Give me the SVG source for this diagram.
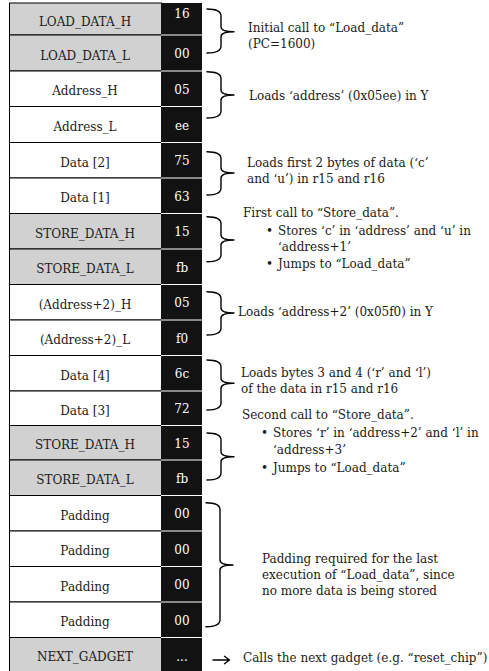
<svg xmlns="http://www.w3.org/2000/svg" width="489" height="671" viewBox="0 0 489 671">
<style>
.cell{stroke:#000;stroke-width:1}
.g{fill:#d1d1d1}
.w{fill:#fff}
.hx{fill:#121212}
.sep{stroke:#fff;stroke-width:1}
.lbl{font-family:"DejaVu Serif",serif;font-size:12px;fill:#1a1a1a;text-anchor:middle}
.hxt{font-family:"DejaVu Serif",serif;font-size:12px;fill:#fff;text-anchor:middle}
.ann{font-family:"DejaVu Serif",serif;font-size:12px;fill:#1a1a1a}
.br{fill:none;stroke:#000;stroke-width:1.4;stroke-linecap:round;stroke-linejoin:round}
</style>
<rect width="489" height="671" fill="#fff"/>
<g id="row0"><rect class="cell g" x="9.5" y="3" width="152" height="32"/><rect class="hx" x="161" y="3" width="41" height="32"/><text class="lbl" x="85" y="25.5">LOAD_DATA_H</text><text class="hxt" x="182" y="18">16</text></g>
<g id="row1"><rect class="cell g" x="9.5" y="35" width="152" height="36"/><rect class="hx" x="161" y="35" width="41" height="36"/><line class="sep" x1="161" y1="35" x2="202" y2="35"/><text class="lbl" x="85" y="59.5">LOAD_DATA_L</text><text class="hxt" x="182" y="58">00</text></g>
<g id="row2"><rect class="cell w" x="9.5" y="71" width="152" height="35.5"/><rect class="hx" x="161" y="71" width="41" height="35.5"/><line class="sep" x1="161" y1="71" x2="202" y2="71"/><text class="lbl" x="85" y="95.25">Address_H</text><text class="hxt" x="182" y="93.75">05</text></g>
<g id="row3"><rect class="cell w" x="9.5" y="106.5" width="152" height="36"/><rect class="hx" x="161" y="106.5" width="41" height="36"/><line class="sep" x1="161" y1="106.5" x2="202" y2="106.5"/><text class="lbl" x="85" y="131">Address_L</text><text class="hxt" x="182" y="129.5">ee</text></g>
<g id="row4"><rect class="cell w" x="9.5" y="142.5" width="152" height="35.5"/><rect class="hx" x="161" y="142.5" width="41" height="35.5"/><line class="sep" x1="161" y1="142.5" x2="202" y2="142.5"/><text class="lbl" x="85" y="166.75">Data [2]</text><text class="hxt" x="182" y="165.25">75</text></g>
<g id="row5"><rect class="cell w" x="9.5" y="178" width="152" height="35.5"/><rect class="hx" x="161" y="178" width="41" height="35.5"/><line class="sep" x1="161" y1="178" x2="202" y2="178"/><text class="lbl" x="85" y="202.25">Data [1]</text><text class="hxt" x="182" y="200.75">63</text></g>
<g id="row6"><rect class="cell g" x="9.5" y="213.5" width="152" height="35.5"/><rect class="hx" x="161" y="213.5" width="41" height="35.5"/><line class="sep" x1="161" y1="213.5" x2="202" y2="213.5"/><text class="lbl" x="85" y="237.75">STORE_DATA_H</text><text class="hxt" x="182" y="236.25">15</text></g>
<g id="row7"><rect class="cell g" x="9.5" y="249" width="152" height="35.5"/><rect class="hx" x="161" y="249" width="41" height="35.5"/><line class="sep" x1="161" y1="249" x2="202" y2="249"/><text class="lbl" x="85" y="273.25">STORE_DATA_L</text><text class="hxt" x="182" y="271.75">fb</text></g>
<g id="row8"><rect class="cell w" x="9.5" y="284.5" width="152" height="35.5"/><rect class="hx" x="161" y="284.5" width="41" height="35.5"/><line class="sep" x1="161" y1="284.5" x2="202" y2="284.5"/><text class="lbl" x="85" y="308.75">(Address+2)_H</text><text class="hxt" x="182" y="307.25">05</text></g>
<g id="row9"><rect class="cell w" x="9.5" y="320" width="152" height="35.5"/><rect class="hx" x="161" y="320" width="41" height="35.5"/><line class="sep" x1="161" y1="320" x2="202" y2="320"/><text class="lbl" x="85" y="344.25">(Address+2)_L</text><text class="hxt" x="182" y="342.75">f0</text></g>
<g id="row10"><rect class="cell w" x="9.5" y="355.5" width="152" height="35.5"/><rect class="hx" x="161" y="355.5" width="41" height="35.5"/><line class="sep" x1="161" y1="355.5" x2="202" y2="355.5"/><text class="lbl" x="85" y="379.75">Data [4]</text><text class="hxt" x="182" y="378.25">6c</text></g>
<g id="row11"><rect class="cell w" x="9.5" y="391" width="152" height="34.5"/><rect class="hx" x="161" y="391" width="41" height="34.5"/><line class="sep" x1="161" y1="391" x2="202" y2="391"/><text class="lbl" x="85" y="414.75">Data [3]</text><text class="hxt" x="182" y="413.25">72</text></g>
<g id="row12"><rect class="cell g" x="9.5" y="425.5" width="152" height="34.5"/><rect class="hx" x="161" y="425.5" width="41" height="34.5"/><line class="sep" x1="161" y1="425.5" x2="202" y2="425.5"/><text class="lbl" x="85" y="449.25">STORE_DATA_H</text><text class="hxt" x="182" y="447.75">15</text></g>
<g id="row13"><rect class="cell g" x="9.5" y="460" width="152" height="35.5"/><rect class="hx" x="161" y="460" width="41" height="35.5"/><line class="sep" x1="161" y1="460" x2="202" y2="460"/><text class="lbl" x="85" y="484.25">STORE_DATA_L</text><text class="hxt" x="182" y="482.75">fb</text></g>
<g id="row14"><rect class="cell w" x="9.5" y="495.5" width="152" height="35.5"/><rect class="hx" x="161" y="495.5" width="41" height="35.5"/><line class="sep" x1="161" y1="495.5" x2="202" y2="495.5"/><text class="lbl" x="85" y="519.75">Padding</text><text class="hxt" x="182" y="518.25">00</text></g>
<g id="row15"><rect class="cell w" x="9.5" y="531" width="152" height="35.5"/><rect class="hx" x="161" y="531" width="41" height="35.5"/><line class="sep" x1="161" y1="531" x2="202" y2="531"/><text class="lbl" x="85" y="555.25">Padding</text><text class="hxt" x="182" y="553.75">00</text></g>
<g id="row16"><rect class="cell w" x="9.5" y="566.5" width="152" height="35.5"/><rect class="hx" x="161" y="566.5" width="41" height="35.5"/><line class="sep" x1="161" y1="566.5" x2="202" y2="566.5"/><text class="lbl" x="85" y="590.75">Padding</text><text class="hxt" x="182" y="589.25">00</text></g>
<g id="row17"><rect class="cell w" x="9.5" y="602" width="152" height="35.5"/><rect class="hx" x="161" y="602" width="41" height="35.5"/><line class="sep" x1="161" y1="602" x2="202" y2="602"/><text class="lbl" x="85" y="626.25">Padding</text><text class="hxt" x="182" y="624.75">00</text></g>
<g id="row18"><rect class="cell g" x="9.5" y="637.5" width="152" height="36"/><rect class="hx" x="161" y="637.5" width="41" height="36"/><line class="sep" x1="161" y1="637.5" x2="202" y2="637.5"/><text class="lbl" x="85" y="661">NEXT_GADGET</text><text class="hxt" x="182" y="661">...</text></g>
<g id="connectors">
<path class="br" d="M207,9 Q221,9 221,16 L221,26.7 Q221,31.7 234,31.7 Q221,31.7 221,36.7 L221,46 Q221,53 207,53"/>
<path class="br" d="M207,71.7 Q221,71.7 221,78.7 L221,90 Q221,95 234,95 Q221,95 221,100 L221,111 Q221,118 207,118"/>
<path class="br" d="M207,151.7 Q221,151.7 221,158.7 L221,168 Q221,173 234,173 Q221,173 221,178 L221,188 Q221,195 207,195"/>
<path class="br" d="M207,216.7 Q221,216.7 221,223.7 L221,235 Q221,240 234,240 Q221,240 221,245 L221,254.7 Q221,261.7 207,261.7"/>
<path class="br" d="M207,291.7 Q221,291.7 221,298.7 L221,308 Q221,313 234,313 Q221,313 221,318 L221,328 Q221,335 207,335"/>
<path class="br" d="M207,360 Q221,360 221,367 L221,378.3 Q221,383.3 234,383.3 Q221,383.3 221,388.3 L221,403 Q221,410 207,410"/>
<path class="br" d="M207,433 Q221,433 221,440 L221,451.7 Q221,456.7 234,456.7 Q221,456.7 221,461.7 L221,473 Q221,480 207,480"/>
<path class="br" d="M206,502.7 Q220,502.7 220,509.7 L220,560 Q220,565 233,565 Q220,565 220,570 L220,619.7 Q220,626.7 206,626.7"/>
<path class="br" d="M213,660 L229.5,660 M224.5,656.3 L229.5,660 L224.5,663.7"/>
</g>
<g id="note1"><text class="ann" x="248" y="32">Initial call to “Load_data”</text><text class="ann" x="248" y="48">(PC=1600)</text></g>
<g id="note2"><text class="ann" x="249" y="100">Loads ‘address’ (0x05ee) in Y</text></g>
<g id="note3"><text class="ann" x="247" y="167">Loads first 2 bytes of data (‘c’</text><text class="ann" x="247" y="183">and ‘u’) in r15 and r16</text></g>
<g id="note4"><text class="ann" x="243" y="217">First call to “Store_data”.</text><text class="ann" x="266" y="235">•</text><text class="ann" x="278" y="235">Stores ‘c’ in ‘address’ and ‘u’ in</text><text class="ann" x="278" y="251">‘address+1’</text><text class="ann" x="266" y="268">•</text><text class="ann" x="278" y="268">Jumps to “Load_data”</text></g>
<g id="note5"><text class="ann" x="238" y="316">Loads ‘address+2’ (0x05f0) in Y</text></g>
<g id="note6"><text class="ann" x="241" y="377">Loads bytes 3 and 4 (‘r’ and ‘l’)</text><text class="ann" x="241" y="393">of the data in r15 and r16</text></g>
<g id="note7"><text class="ann" x="242" y="419">Second call to “Store_data”.</text><text class="ann" x="261" y="437">•</text><text class="ann" x="273" y="437">Stores ‘r’ in ‘address+2’ and ‘l’ in</text><text class="ann" x="273" y="454">‘address+3’</text><text class="ann" x="261" y="472">•</text><text class="ann" x="273" y="472">Jumps to “Load_data”</text></g>
<g id="note8"><text class="ann" x="262" y="563">Padding required for the last</text><text class="ann" x="262" y="579">execution of “Load_data”, since</text><text class="ann" x="262" y="595">no more data is being stored</text></g>
<g id="note9"><text class="ann" x="243" y="662">Calls the next gadget (e.g. “reset_chip”)</text></g>
</svg>
